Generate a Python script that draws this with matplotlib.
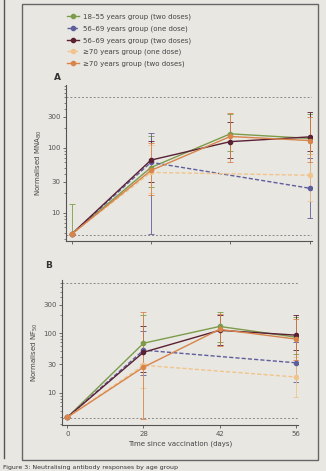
import numpy as np
import matplotlib
matplotlib.use("Agg")
import matplotlib.pyplot as plt
from matplotlib.patches import Rectangle
from matplotlib.lines import Line2D
from matplotlib.ticker import LogLocator, NullFormatter

# x categories (equally spaced in the original)
days = ["0", "28", "42", "56"]

groups = ["18\u201355 years group (two doses)",
          "56\u201369 years group (one dose)",
          "56\u201369 years group (two doses)",
          "\u226570 years group (one dose)",
          "\u226570 years group (two doses)"]
colors = ["#7c9c4c", "#5e5e9c", "#5a2034", "#f0c48c", "#d8844a"]
nan = np.nan

# panel A: median and error bar ends
a_med = [[4.7, 50, 165, 140],
         [4.7, 60, nan, 24],
         [4.7, 65, 125, 148],
         [4.7, 42, nan, 38],
         [4.7, 45, 150, 130]]
a_lo = [[4.7, 25, 90, 80],
        [4.7, 4.7, nan, 8.4],
        [4.7, 30, 70, 90],
        [4.7, 20, nan, 15],
        [4.7, 19, 60, 60]]
a_hi = [[13.5, 150, 330, 330],
        [4.7, 170, nan, 70],
        [4.7, 130, 250, 360],
        [4.7, 110, nan, 80],
        [4.7, 120, 345, 300]]

# panel B
b_med = [[3.9, 68, 130, 86],
         [3.9, 52, nan, 32],
         [3.9, 48, 112, 93],
         [3.9, 29, nan, 18.5],
         [3.9, 27, 116, 80]]
b_lo = [[3.9, 30, 70, 45],
        [3.9, 20, nan, 15],
        [3.9, 22, 63, 52],
        [3.9, 12, nan, 8.6],
        [3.9, 3.6, 60, 35]]
b_hi = [[3.9, 200, 224, 190],
        [3.9, 110, nan, 70],
        [3.9, 130, 200, 200],
        [3.9, 70, nan, 40],
        [3.9, 224, 210, 170]]

bg = "#e9e7e2"
W, H = 326, 471
fig = plt.figure(figsize=(W / 100, H / 100), dpi=100, facecolor=bg)
plt.rcParams["font.family"] = "DejaVu Sans"


def draw_panel(ax, med, lo, hi, ylim, uloq, lloq, ylabel):
    x = np.arange(len(days))
    for i in range(len(groups)):
        m = np.array(med[i], dtype=float)
        l = np.array(lo[i], dtype=float)
        h = np.array(hi[i], dtype=float)
        ok = ~np.isnan(m)
        ls = "-" if i not in (1, 3) else (0, (3, 1.5))
        ax.plot(x[ok], m[ok], color=colors[i], lw=1.0, ls=ls, marker="o",
                ms=3, zorder=3, label=groups[i])
        ax.errorbar(x[ok], m[ok], yerr=[m[ok] - l[ok], h[ok] - m[ok]],
                    fmt="none", ecolor=colors[i], elinewidth=0.6,
                    capsize=2.5, capthick=0.6, zorder=2)
    ax.axhline(uloq, color="#8a8a8a", lw=0.7, ls=(0, (2, 2)), zorder=1)
    ax.axhline(lloq, color="#8a8a8a", lw=0.7, ls=(0, (2, 2)), zorder=1)
    ax.set_yscale("log")
    ax.set_ylim(*ylim)
    ax.set_xlim(-0.07, 3.03)
    ax.set_yticks([10, 30, 100, 300])
    ax.set_yticklabels(["10", "30", "100", "300"])
    ax.yaxis.set_minor_locator(LogLocator(base=10, subs=np.arange(2, 10)))
    ax.yaxis.set_minor_formatter(NullFormatter())
    ax.set_xticks(x)
    ax.set_facecolor(bg)
    for s in ("top", "right"):
        ax.spines[s].set_visible(False)
    for s in ("left", "bottom"):
        ax.spines[s].set_color("#555555")
        ax.spines[s].set_linewidth(0.8)
    ax.tick_params(labelsize=5, colors="#555555", length=2.5, width=0.6, pad=1.5)
    ax.tick_params(which="minor", length=1.5, width=0.5, colors="#555555")
    ax.set_ylabel(ylabel, fontsize=5, color="#444444", labelpad=2)


axA = fig.add_axes([66 / W, 1 - 241 / H, 246 / W, 156 / H])
draw_panel(axA, a_med, a_lo, a_hi, (3.7, 930), 610, 4.6, "Normalised MNA$_{80}$")
axA.set_xticklabels([])

axB = fig.add_axes([62 / W, 1 - 425 / H, 236 / W, 145 / H])
draw_panel(axB, b_med, b_lo, b_hi, (2.9, 780), 700, 3.8, "Normalised NF$_{50}$")
axB.set_xticklabels(days)
axB.set_xlabel("Time since vaccination (days)", fontsize=5, color="#444444", labelpad=3)

fig.text(57 / W, 1 - 78 / H, "A", fontsize=6.5, fontweight="bold", color="#333333",
         ha="center", va="center")
fig.text(49 / W, 1 - 265 / H, "B", fontsize=6.5, fontweight="bold", color="#333333",
         ha="center", va="center")

handles, labels = axA.get_legend_handles_labels()
leg = fig.legend(handles, labels, loc="upper left", bbox_to_anchor=(64 / W, 1 - 11 / H),
                 fontsize=5, frameon=False, handlelength=1.8, handletextpad=0.5,
                 labelspacing=0.75, borderaxespad=0)
for t in leg.get_texts():
    t.set_color("#444444")

# figure frame, page edge and caption
fig.patches.append(Rectangle((22 / W, 1 - 460 / H), 296 / W, 456 / H,
                             transform=fig.transFigure, fill=False,
                             edgecolor="#666666", lw=1.0))
fig.lines.append(Line2D([4 / W, 4 / W], [1 - 458 / H, 1.0], transform=fig.transFigure,
                        color="#555555", lw=1.0))
fig.text(3 / W, 1 - 467 / H, "Figure 3: Neutralising antibody responses by age group",
         fontsize=4.5, color="#333333", ha="left", va="center")

fig.savefig("out.png", dpi=100, facecolor=bg)
